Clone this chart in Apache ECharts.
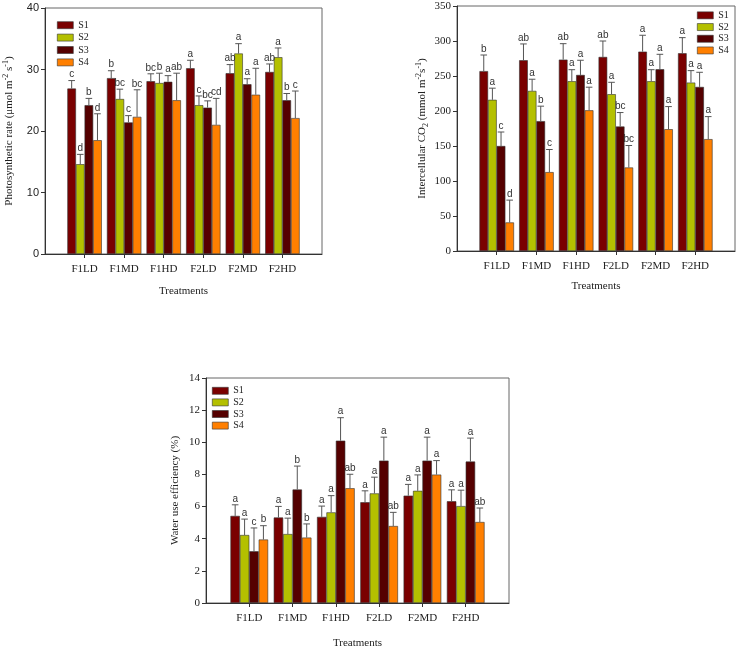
<!DOCTYPE html>
<html><head><meta charset="utf-8">
<script src="https://cdn.jsdelivr.net/npm/echarts@6/dist/echarts.min.js"></script>
<style>html,body{margin:0;padding:0;background:#fff}#c{width:738px;height:650px}</style>
</head><body><div id="c"></div>
<script>
const categories = ['F1LD','F1MD','F1HD','F2LD','F2MD','F2HD'];
const seriesNames = ['S1','S2','S3','S4'];
const colors = ['#7a0000','#b4c000','#550000','#ff7f00'];

// Photosynthetic rate
const psMean = [
  [26.9, 28.6, 28.1, 30.2, 29.4, 29.6],
  [14.6, 25.2, 27.8, 24.2, 32.6, 32.0],
  [24.2, 21.4, 28.0, 23.8, 27.6, 25.0],
  [18.5, 22.3, 25.0, 21.0, 25.9, 22.1]
];
const psUpper = [
  [28.2, 29.8, 29.3, 31.5, 30.8, 30.9],
  [16.2, 26.8, 29.4, 25.7, 34.2, 33.5],
  [25.3, 22.5, 29.0, 24.9, 28.5, 26.1],
  [22.8, 26.7, 29.4, 25.3, 30.2, 26.5]
];
const psLetters = [
  ['c','b','bc','a','ab','ab'],
  ['d','bc','b','c','a','a'],
  ['b','c','a','bc','a','b'],
  ['d','bc','ab','cd','a','c']
];

// Intercellular CO2
const ciMean = [
  [257, 272.5, 273.4, 277.2, 284.8, 282.5],
  [216, 228.7, 242.5, 224, 242.5, 240.6],
  [150, 185.5, 251.5, 177.8, 259.7, 234.4],
  [40.8, 112.7, 201, 119.3, 174, 159.8]
];
const ciUpper = [
  [280, 295.8, 296.2, 300, 308.2, 304.8],
  [232.6, 245.4, 259, 241, 259, 257.7],
  [170, 206.9, 272.5, 197.8, 281, 255.3],
  [72.7, 145, 234, 150.7, 206.3, 192]
];
const ciLetters = [
  ['b','ab','ab','ab','a','a'],
  ['a','a','a','a','a','a'],
  ['c','b','a','bc','a','a'],
  ['d','c','a','bc','a','a']
];

// Water use efficiency
const wueMean = [
  [5.42, 5.32, 5.36, 6.27, 6.68, 6.33],
  [4.23, 4.29, 5.64, 6.82, 6.98, 6.03],
  [3.22, 7.06, 10.1, 8.86, 8.86, 8.80],
  [3.95, 4.07, 7.14, 4.79, 7.99, 5.04]
];
const wueUpper = [
  [6.11, 6.01, 6.03, 6.98, 7.38, 7.04],
  [5.22, 5.28, 6.68, 7.83, 7.97, 7.02],
  [4.67, 8.52, 11.53, 10.32, 10.32, 10.26],
  [4.81, 4.92, 8.01, 5.64, 8.86, 5.91]
];
const wueLetters = [
  ['a','a','a','a','a','a'],
  ['a','a','a','a','a','a'],
  ['c','b','a','a','a','a'],
  ['b','b','ab','ab','a','ab']
];

const SERIF = '"Liberation Serif","Times New Roman",serif';
const SANS = '"Liberation Sans",Arial,sans-serif';
const GAP = 0.13;
const padCats = [''].concat(categories, ['']);
const pad = arr => ['-'].concat(arr, ['-']);

const panels = [
  {grid:{left:45, top:8, width:277, height:246}, max:40, interval:10, tickFont:SANS,
   yName:'Photosynthetic rate (μmol m{sup|-2} s{sup|-1})', yGap:28, xGap:32,
   mean:psMean, upper:psUpper, letters:psLetters,
   legend:{left:57, top:19, lh:12.4}},
  {grid:{left:457, top:6, width:278, height:245}, max:350, interval:50, tickFont:SERIF,
   yName:'Intercellular CO{sub|2} (mmol m{sup|-2}s{sup|-1})', yGap:27, xGap:30,
   mean:ciMean, upper:ciUpper, letters:ciLetters,
   legend:{left:697, top:9.5, lh:11.7}},
  {grid:{left:206, top:378, width:303, height:230}, max:14, interval:2, tickFont:SERIF,
   yName:'Water use efficiency (%)', yGap:25, xGap:35,
   mean:wueMean, upper:wueUpper, letters:wueLetters,
   legend:{left:212, top:385, lh:11.6}}
];

const grids = [], xAxes = [], yAxes = [], series = [], legends = [];
panels.forEach((p, gi) => {
  grids.push(Object.assign({show:true, borderColor:'#666', borderWidth:1, backgroundColor:'transparent'}, p.grid));
  xAxes.push({
    type:'category', gridIndex:gi, data:padCats, boundaryGap:false,
    axisLine:{lineStyle:{color:'#333', width:1}},
    axisTick:{length:4, lineStyle:{color:'#333'}, interval:(i)=> i>0 && i<padCats.length-1},
    axisLabel:{interval:0, margin:10, fontFamily:SERIF, fontSize:11, color:'#222'},
    name:'Treatments', nameLocation:'middle', nameGap:p.xGap,
    nameTextStyle:{fontFamily:SERIF, fontSize:11, color:'#222'},
    splitLine:{show:false}
  });
  yAxes.push({
    type:'value', gridIndex:gi, min:0, max:p.max, interval:p.interval,
    axisLine:{show:true, lineStyle:{color:'#333', width:1}},
    axisTick:{show:true, length:4, inside:false, lineStyle:{color:'#333'}},
    axisLabel:{fontFamily:p.tickFont, fontSize:11, color:'#222', margin:6},
    splitLine:{show:false},
    name:p.yName, nameLocation:'middle', nameRotate:90, nameGap:p.yGap,
    nameTextStyle:{fontFamily:SERIF, fontSize:11, color:'#222',
      rich:{sup:{fontFamily:SERIF, fontSize:8, color:'#222', padding:[0,0,7,0]},
            sub:{fontFamily:SERIF, fontSize:8, color:'#222', padding:[6,0,0,0]}}}
  });
  legends.push({
    left:p.legend.left, top:p.legend.top, orient:'vertical', itemWidth:16, itemHeight:7,
    itemGap:0, icon:'rect', selectedMode:false, padding:0,
    data:seriesNames.map(n => ({name:n, itemStyle:{borderColor:'#333', borderWidth:0.6}})),
    textStyle:{fontFamily:SERIF, fontSize:10, color:'#222', lineHeight:p.legend.lh, height:p.legend.lh}
  });
  seriesNames.forEach((name, si) => {
    series.push({
      type:'bar', name, xAxisIndex:gi, yAxisIndex:gi, data:pad(p.mean[si]),
      barGap:'0%', barCategoryGap:(GAP*100)+'%',
      itemStyle:{color:colors[si], borderColor:'#333', borderWidth:0.6},
      emphasis:{disabled:true}, animation:false
    });
  });
  // error bars + letters
  const errData = [];
  seriesNames.forEach((name, si) => {
    categories.forEach((c, ci) => {
      errData.push([ci+1, p.mean[si][ci], p.upper[si][ci], si, p.letters[si][ci]]);
    });
  });
  series.push({
    type:'custom', xAxisIndex:gi, yAxisIndex:gi, data:errData, silent:true, animation:false, z:5,
    encode:{x:0, y:[1,2]},
    renderItem:(params, api) => {
      const band = api.size([1,0])[0];
      const bw = band*(1-GAP)/4;
      const si = api.value(3);
      const base = api.coord([api.value(0), api.value(1)]);
      const top = api.coord([api.value(0), api.value(2)]);
      const x = base[0] - 2*bw + (si+0.5)*bw;
      const cap = 3.3;
      const item = params.dataIndex;
      return {type:'group', children:[
        {type:'line', shape:{x1:x, y1:base[1], x2:x, y2:top[1]}, style:{stroke:'#555', lineWidth:1}},
        {type:'line', shape:{x1:x-cap, y1:top[1], x2:x+cap, y2:top[1]}, style:{stroke:'#555', lineWidth:1}},
        {type:'text', style:{x:x, y:top[1]-1, text:errData[item][4], textAlign:'center', textVerticalAlign:'bottom',
          font:'10px "Liberation Sans", Arial, sans-serif', fill:'#333'}}
      ]};
    }
  });
});

const chart = echarts.init(document.getElementById('c'), null, {renderer:'canvas'});
chart.setOption({
  backgroundColor:'#fff', animation:false,
  grid:grids, xAxis:xAxes, yAxis:yAxes, legend:legends, series
});
</script></body></html>
